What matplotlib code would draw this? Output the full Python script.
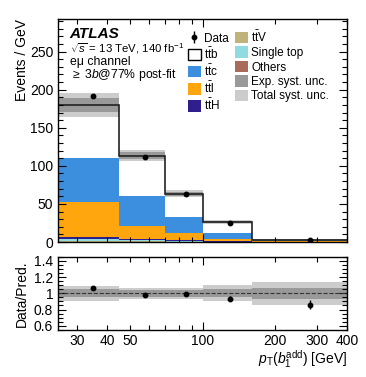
import numpy as np
import matplotlib
matplotlib.use("Agg")
import matplotlib.pyplot as plt
from matplotlib.patches import Patch
from matplotlib.ticker import FixedLocator, FixedFormatter, NullFormatter, MultipleLocator

plt.rcParams['font.family'] = ['Liberation Sans', 'DejaVu Sans']
plt.rcParams['mathtext.fontset'] = 'custom'
plt.rcParams['mathtext.rm'] = 'Liberation Sans'
plt.rcParams['mathtext.it'] = 'Liberation Sans:italic'
plt.rcParams['mathtext.bf'] = 'Liberation Sans:bold'

# bin edges in pT(b1 add) [GeV]
edges = np.array([25, 45, 70, 100, 160, 400])

# stacked predictions, events / GeV (bottom -> top)
others = np.array([0.4, 0.3, 0.15, 0.07, 0.02])
ttV = np.array([0.8, 0.5, 0.3, 0.12, 0.03])
single_top = np.array([3.4, 2.0, 1.0, 0.4, 0.1])
ttH = np.array([2.2, 1.3, 0.8, 0.4, 0.1])
ttl = np.array([45.6, 16.9, 9.0, 3.1, 0.8])
ttc = np.array([57.6, 39.3, 21.7, 7.9, 1.3])
ttb = np.array([70.0, 53.1, 30.4, 14.3, 0.9])

data = np.array([191.6, 111.0, 62.5, 24.5, 2.8])
data_err = np.array([3.0, 2.0, 1.5, 0.7, 0.1])

# relative systematic uncertainties
exp_unc = np.array([0.05, 0.04, 0.045, 0.05, 0.07])
tot_unc = np.array([0.09, 0.065, 0.07, 0.10, 0.14])
ratio_err = np.array([0.016, 0.018, 0.024, 0.03, 0.05])

c_ttb, c_ttc, c_ttl, c_ttH = 'white', '#3c8fde', '#ffa60f', '#2e1f8c'
c_ttV, c_st, c_oth = '#bfb27a', '#8fdbe0', '#a86b5b'
c_exp, c_tot = '#999999', '#cccccc'

components = [(others, c_oth), (ttV, c_ttV), (single_top, c_st), (ttH, c_ttH),
              (ttl, c_ttl), (ttc, c_ttc), (ttb, c_ttb)]

fig = plt.figure(figsize=(3.66, 3.77), dpi=100)
ax = fig.add_axes([0.1585, 0.358, 0.790, 0.592])
rax = fig.add_axes([0.1585, 0.125, 0.790, 0.194])

bottom = np.zeros(len(edges) - 1)
for vals, col in components:
    ax.stairs(bottom + vals, edges, baseline=bottom, fill=True, color=col, lw=0)
    bottom = bottom + vals
total = bottom

ax.stairs(total * (1 + tot_unc), edges, baseline=total * (1 - tot_unc), fill=True, color=c_tot, lw=0)
ax.stairs(total * (1 + exp_unc), edges, baseline=total * (1 - exp_unc), fill=True, color=c_exp, lw=0)
ax.stairs(total, edges, baseline=None, color='#222222', lw=1.2)

centers = 0.5 * (edges[1:] + edges[:-1])
ax.errorbar(centers, data, yerr=data_err, fmt='o', color='black', ms=3.2, lw=1, capsize=0, zorder=5)

# ratio panel
ones = np.ones_like(total)
rax.stairs(ones + tot_unc, edges, baseline=ones - tot_unc, fill=True, color=c_tot, lw=0)
rax.stairs(ones + exp_unc, edges, baseline=ones - exp_unc, fill=True, color=c_exp, lw=0)
rax.axhline(1, color='#333333', ls='--', lw=0.8)
rax.errorbar(centers, data / total, yerr=ratio_err, fmt='o', color='black', ms=3.2, lw=1, capsize=0, zorder=5)

for a in (ax, rax):
    a.set_xscale('log')
    a.set_xlim(25, 400)
    a.xaxis.set_major_locator(FixedLocator([100]))
    a.xaxis.set_minor_locator(FixedLocator([30, 40, 50, 60, 70, 80, 90, 200, 300, 400]))
    a.tick_params(which='both', direction='in', top=True, right=True, labelsize=10)
    a.tick_params(which='major', length=6, width=0.8)
    a.tick_params(which='minor', length=3.5, width=0.8)
    for s in a.spines.values():
        s.set_linewidth(1.0)

ax.xaxis.set_major_formatter(NullFormatter())
ax.xaxis.set_minor_formatter(NullFormatter())
rax.xaxis.set_major_formatter(FixedFormatter(['100']))
rax.xaxis.set_minor_formatter(FixedFormatter(['30', '40', '50', '', '', '', '', '200', '300', '400']))
rax.tick_params(which='both', axis='x', pad=3)

ax.set_ylim(0, 293)
ax.yaxis.set_major_locator(MultipleLocator(50))
ax.yaxis.set_minor_locator(MultipleLocator(10))
ax.set_ylabel('Events / GeV', fontsize=10, loc='top')

rax.set_ylim(0.55, 1.45)
rax.yaxis.set_major_locator(FixedLocator([0.6, 0.8, 1.0, 1.2, 1.4]))
rax.yaxis.set_major_formatter(FixedFormatter(['0.6', '0.8', '1', '1.2', '1.4']))
rax.yaxis.set_minor_locator(MultipleLocator(0.05))
rax.set_ylabel('Data/Pred.', fontsize=10)
rax.set_xlabel(r'$p_{\mathrm{T}}(b_1^{\mathrm{add}})$ [GeV]', fontsize=10, loc='right', labelpad=0)
ax.yaxis.set_label_coords(-0.1, 1.0)
rax.yaxis.set_label_coords(-0.1, 0.5)

# labels
ax.text(0.04, 0.933, 'ATLAS', transform=ax.transAxes, fontsize=11, fontweight='bold',
        style='italic', va='center')
ax.text(0.04, 0.866, r'$\sqrt{s}$ = 13 TeV, 140 fb$^{-1}$', transform=ax.transAxes, fontsize=8.2,
        va='center')
ax.text(0.04, 0.808, 'eμ channel', transform=ax.transAxes, fontsize=8.8, va='center')
ax.text(0.04, 0.75, r'$\geq$ $\mathit{3b@77\%}$ post-fit', transform=ax.transAxes, fontsize=8.8,
        va='center')

# legend
data_h = ax.errorbar([], [], yerr=[], fmt='o', color='black', ms=3.2, lw=1)
handles = [data_h,
           Patch(facecolor=c_ttb, edgecolor='black', lw=1),
           Patch(facecolor=c_ttc), Patch(facecolor=c_ttl), Patch(facecolor=c_ttH),
           Patch(facecolor=c_ttV), Patch(facecolor=c_st), Patch(facecolor=c_oth),
           Patch(facecolor=c_exp), Patch(facecolor=c_tot)]
labels = ['Data', r'$\mathrm{t\bar{t}b}$', r'$\mathrm{t\bar{t}c}$', r'$\mathrm{t\bar{t}l}$',
          r'$\mathrm{t\bar{t}H}$', r'$\mathrm{t\bar{t}V}$', 'Single top', 'Others',
          'Exp. syst. unc.', 'Total syst. unc.']
ax.legend(handles, labels, ncol=2, loc='upper left', bbox_to_anchor=(0.42, 0.99), frameon=False,
          fontsize=8.5, handlelength=1.1, handleheight=1.1, handletextpad=0.3,
          columnspacing=0.5, labelspacing=0.15, borderpad=0.2)

fig.savefig('out.png', dpi=100)
